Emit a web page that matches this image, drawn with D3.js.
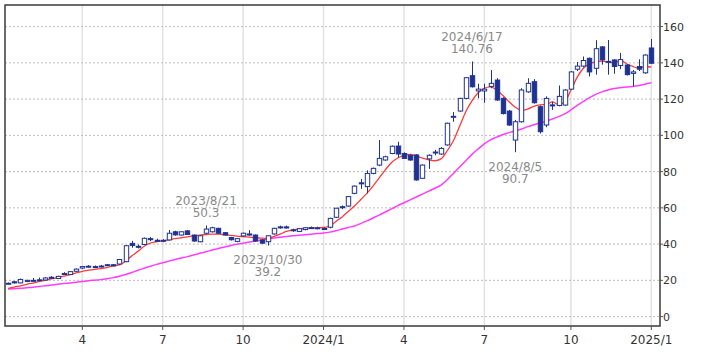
<!DOCTYPE html>
<html>
<head>
<meta charset="utf-8">
<script src="https://cdn.jsdelivr.net/npm/d3@7"></script>
<style>
body { margin: 0; background: #fff; }
svg { display: block; font-family: "DejaVu Sans", Verdana, sans-serif; }
</style>
</head>
<body>
<div id="chart"></div>
<script>
// weekly candles, Monday dates from 2023/1/9 to 2025/1/6
const openV = [
  18.0, 19.2, 18.6, 19.4, 19.9, 20.2, 20.2, 21.7, 21.0, 23.8,
  23.2, 25.0, 26.8, 27.7, 27.6, 27.8, 28.6, 28.6, 29.0, 30.3,
  40.4, 38.8, 39.8, 43.0, 42.1, 41.9, 42.3, 46.8, 45.0, 47.3,
  45.0, 41.3, 46.0, 46.8, 48.7, 46.3, 43.6, 41.5, 44.5, 45.6,
  45.0, 42.3, 41.3, 45.6, 49.5, 49.5, 47.8, 47.0, 48.0, 49.0,
  48.9, 48.6, 49.3, 54.8, 60.6, 61.0, 68.0, 73.8, 71.7, 79.0,
  83.6, 86.4, 90.0, 94.1, 90.0, 89.0, 89.2, 76.3, 87.0, 90.3,
  89.7, 94.7, 110.0, 113.4, 120.4, 132.9, 124.5, 124.5, 127.0, 130.5,
  120.4, 113.4, 97.4, 107.5, 124.0, 129.6, 115.8, 105.7, 116.8, 116.5,
  116.7, 125.5, 136.5, 138.2, 142.5, 137.0, 148.8, 140.3, 141.6, 138.5,
  138.8, 134.2, 138.0, 134.5, 148.2
];
const highV = [
  18.8, 19.6, 21.0, 20.3, 21.3, 21.5, 21.8, 22.3, 22.5, 24.5,
  25.0, 26.6, 27.8, 28.4, 28.2, 28.5, 29.0, 29.0, 31.8, 39.5,
  41.8, 39.8, 43.6, 43.9, 43.0, 42.7, 47.8, 47.4, 47.0, 47.6,
  45.3, 44.9, 50.3, 49.6, 49.0, 46.6, 44.0, 43.3, 46.3, 47.7,
  45.3, 42.6, 44.9, 49.0, 50.2, 50.2, 48.5, 48.8, 49.4, 49.7,
  49.6, 49.3, 54.5, 60.0, 61.3, 66.5, 72.4, 76.0, 80.7, 82.2,
  97.4, 88.8, 94.4, 96.5, 90.6, 89.5, 89.6, 84.0, 89.5, 92.0,
  93.5, 107.0, 112.8, 120.7, 132.2, 140.76, 128.5, 128.5, 136.0, 131.5,
  121.0, 114.0, 108.5, 126.0, 131.5, 131.0, 116.5, 121.5, 118.5, 127.5,
  125.5, 135.5, 140.5, 143.5, 143.0, 152.5, 149.2, 152.6, 142.0, 145.5,
  139.3, 136.0, 142.0, 144.7, 153.2
];
const lowV = [
  17.6, 18.3, 18.4, 19.0, 19.3, 19.8, 20.0, 21.0, 20.8, 23.2,
  23.0, 24.8, 26.3, 27.0, 26.8, 27.1, 27.9, 27.8, 28.6, 30.0,
  38.0, 37.6, 39.5, 41.6, 41.3, 41.0, 42.0, 44.6, 44.7, 45.0,
  41.3, 41.0, 45.5, 46.4, 45.7, 44.7, 42.0, 41.0, 44.0, 44.6,
  41.3, 40.2, 39.2, 45.3, 48.5, 48.6, 46.8, 46.6, 47.6, 48.3,
  48.2, 47.8, 48.7, 54.4, 59.3, 60.6, 67.5, 70.5, 68.0, 78.5,
  83.0, 86.0, 89.6, 87.8, 87.0, 86.0, 75.0, 76.0, 81.5, 89.0,
  89.3, 94.3, 107.5, 113.0, 120.0, 126.4, 120.5, 118.0, 126.0, 119.0,
  111.5, 105.3, 90.7, 107.0, 123.5, 117.5, 101.0, 104.5, 114.0, 116.0,
  116.3, 125.0, 135.5, 137.5, 132.5, 133.5, 139.0, 133.5, 134.0, 136.5,
  133.0, 127.0, 135.5, 134.0, 139.3
];
const closeV = [
  18.4, 18.6, 20.5, 20.0, 20.0, 20.3, 21.3, 21.4, 22.2, 23.4,
  24.8, 26.2, 27.6, 27.8, 27.5, 27.9, 28.2, 28.0, 31.5, 39.1,
  39.2, 38.6, 43.2, 42.6, 42.0, 42.1, 46.0, 45.1, 46.8, 45.3,
  41.7, 44.6, 48.3, 49.0, 46.0, 45.0, 42.4, 43.0, 46.0, 45.0,
  41.7, 40.5, 44.6, 48.7, 49.0, 48.9, 47.9, 48.5, 49.0, 49.1,
  49.0, 48.6, 54.2, 59.8, 60.2, 66.2, 72.0, 73.3, 79.0, 81.8,
  87.3, 88.2, 94.0, 89.7, 87.3, 86.4, 75.4, 83.6, 89.0, 90.8,
  92.8, 106.7, 110.5, 120.4, 131.8, 126.8, 125.5, 125.5, 128.7, 119.5,
  112.0, 105.7, 107.5, 125.0, 128.7, 118.0, 102.0, 120.4, 116.4, 121.5,
  125.0, 135.0, 138.2, 141.3, 135.0, 147.8, 141.6, 140.8, 138.0, 141.8,
  133.5, 135.0, 136.5, 144.3, 139.8
];
// moving averages
const ma13 = [
  15.5, 16.3, 17.0, 17.8, 18.5, 19.3, 20.0, 20.8, 21.5, 22.3,
  23.2, 24.1, 25.0, 25.6, 26.1, 26.5, 27.0, 28.0, 28.5, 30.5,
  33.5, 36.0, 38.8, 40.5, 41.3, 41.8, 42.4, 43.0, 43.5, 44.0,
  44.6, 45.0, 45.3, 45.5, 45.5, 45.2, 44.8, 44.4, 44.1, 43.8,
  43.5, 43.3, 43.2, 44.2, 45.5, 47.0, 47.8, 48.3, 48.7, 48.9,
  49.0, 49.2, 49.8, 52.5, 55.0, 58.0, 61.0, 64.5, 68.0, 72.0,
  76.5, 81.0, 85.0, 87.5, 89.0, 89.5, 88.5, 87.5, 86.5, 86.0,
  87.0, 91.5, 97.0, 105.0, 113.0, 119.0, 123.5, 126.0, 126.8, 125.0,
  122.0, 118.5, 115.5, 113.8, 114.5, 116.0, 116.8, 117.0, 118.5, 117.0,
  118.5, 125.0, 132.0, 137.0, 139.5, 140.5, 141.0, 140.5, 140.0, 141.5,
  139.5, 138.0, 137.0, 138.0, 137.7
];
const ma26 = [
  15.2, 15.4, 15.6, 15.9, 16.2, 16.6, 17.0, 17.4, 17.8, 18.2,
  18.6, 19.0, 19.4, 19.8, 20.1, 20.4, 20.9, 21.5, 22.3, 23.2,
  24.3, 25.6, 26.7, 27.8, 28.8, 29.7, 30.6, 31.5, 32.3, 33.1,
  34.0, 34.9, 35.8, 36.7, 37.6, 38.4, 39.2, 39.9, 40.5, 41.1,
  41.7, 42.3, 43.0, 43.4, 43.8, 44.2, 44.6, 44.9, 45.2, 45.5,
  45.8, 46.1, 46.6, 47.4, 48.3, 49.2, 50.0, 51.3, 52.8, 54.4,
  56.0, 57.7, 59.4, 61.2, 62.8, 64.4, 66.0, 67.6, 69.2, 70.8,
  72.6, 75.5, 79.0, 82.5, 86.0, 89.5, 92.5, 95.3, 97.5, 99.0,
  100.5, 101.5, 102.5, 103.5, 104.8, 105.8, 106.8, 107.8, 109.0, 110.3,
  111.8, 114.0, 116.5, 118.7, 120.8, 122.6, 124.0, 125.0, 125.8, 126.3,
  126.7, 127.0, 127.5, 128.2, 129.0
];
const yTicks = [0, 20, 40, 60, 80, 100, 120, 140, 160];
const xTickLabels = ["4", "7", "10", "2024/1", "4", "7", "10", "2025/1"];
const noteDates = ["2023/8/21", "2023/10/30", "2024/6/17", "2024/8/5"];
const noteValues = [50.3, 39.2, 140.76, 90.7];
const noteKinds = ["high", "low", "high", "low"];

const weeks = d3.timeMonday.range(new Date(2023, 0, 9), new Date(2025, 0, 7));
const fmt = d3.timeFormat("%Y/%-m/%-d");
const candles = weeks.map((d, i) => ({
  i: i + 1, date: d,
  o: openV[i], h: highV[i], l: lowV[i], c: closeV[i]
}));

const W = 709, H = 354;
const pLeft = 5, pRight = 660, pTop = 5, pBottom = 326;

const x = d3.scaleLinear().domain([0.5, 106.4]).range([pLeft, pRight]);
const y = d3.scaleLinear().domain([0, 160]).range([316.6, 26.6]);

const svg = d3.select("#chart").append("svg")
  .attr("width", W).attr("height", H);

svg.append("defs").append("clipPath").attr("id", "plot")
  .append("rect").attr("x", pLeft).attr("y", pTop)
  .attr("width", pRight - pLeft).attr("height", pBottom - pTop);

// quarter gridlines at the first week of Jan/Apr/Jul/Oct
const quarterIdx = candles.filter((d, k) => k > 0 &&
  d.date.getMonth() !== candles[k - 1].date.getMonth() &&
  d.date.getMonth() % 3 === 0).map(d => d.i);

svg.append("g").selectAll("line").data(quarterIdx).enter().append("line")
  .attr("x1", d => x(d)).attr("x2", d => x(d))
  .attr("y1", pTop).attr("y2", pBottom)
  .attr("stroke", "#e2e2e2").attr("stroke-width", 1.5);

svg.append("g").selectAll("line").data(yTicks).enter().append("line")
  .attr("x1", pLeft).attr("x2", pRight)
  .attr("y1", d => y(d)).attr("y2", d => y(d))
  .attr("stroke", "#bdbdbd").attr("stroke-width", 1)
  .attr("stroke-dasharray", "2,2");

const plot = svg.append("g").attr("clip-path", "url(#plot)");

const line = arr => d3.line()
  .x((d, k) => x(k + 1)).y(d => y(d))
  .curve(d3.curveMonotoneX)(arr);

plot.append("path").attr("d", line(ma26))
  .attr("fill", "none").attr("stroke", "#ff3cff").attr("stroke-width", 1.5);
plot.append("path").attr("d", line(ma13))
  .attr("fill", "none").attr("stroke", "#ff3a3a").attr("stroke-width", 1.3);

const navy = "#1f3290";
const bw = 4.4;
const cg = plot.selectAll("g.candle").data(candles).enter().append("g");

cg.append("line")
  .attr("x1", d => Math.round(x(d.i)) + 0.5).attr("x2", d => Math.round(x(d.i)) + 0.5)
  .attr("y1", d => y(d.h)).attr("y2", d => y(d.l))
  .attr("stroke", navy).attr("stroke-width", 1);

cg.append("rect")
  .attr("x", d => Math.round(x(d.i)) + 0.5 - bw / 2)
  .attr("y", d => y(Math.max(d.o, d.c)))
  .attr("width", bw)
  .attr("height", d => Math.max(1, Math.abs(y(d.o) - y(d.c))))
  .attr("fill", d => d.c >= d.o ? "#fff" : navy)
  .attr("stroke", navy).attr("stroke-width", 1);

// frame
svg.append("rect").attr("x", pLeft).attr("y", pTop)
  .attr("width", pRight - pLeft).attr("height", pBottom - pTop)
  .attr("fill", "none").attr("stroke", "#3a3a3a").attr("stroke-width", 1.5);

// right axis
const yAxis = svg.append("g");
yAxis.selectAll("line").data(yTicks).enter().append("line")
  .attr("x1", pRight).attr("x2", pRight + 3)
  .attr("y1", d => y(d)).attr("y2", d => y(d))
  .attr("stroke", "#555");
yAxis.selectAll("text").data(yTicks).enter().append("text")
  .attr("x", pRight + 3).attr("y", d => y(d)).attr("dy", "0.36em")
  .attr("font-size", 11).attr("fill", "#333")
  .text(d => d);

// bottom axis
const xAxis = svg.append("g");
xAxis.selectAll("line").data(quarterIdx).enter().append("line")
  .attr("x1", d => x(d)).attr("x2", d => x(d))
  .attr("y1", pBottom).attr("y2", pBottom + 4)
  .attr("stroke", "#555");
xAxis.selectAll("text").data(quarterIdx).enter().append("text")
  .attr("x", d => x(d)).attr("y", 344)
  .attr("text-anchor", "middle")
  .attr("font-size", 12).attr("fill", "#333")
  .text((d, k) => xTickLabels[k]);

// high / low notes
noteDates.forEach((s, k) => {
  const c = candles.find(d => fmt(d.date) === s);
  const cx = x(c.i);
  const vy = y(noteValues[k]);
  const y1 = noteKinds[k] === "high" ? vy - 25 : vy + 14;
  const g = svg.append("g").attr("font-size", 12).attr("fill", "#8a8a8a")
    .attr("text-anchor", "middle");
  g.append("text").attr("x", cx).attr("y", y1).attr("dy", "0.36em").text(s);
  g.append("text").attr("x", cx).attr("y", y1 + 12.5).attr("dy", "0.36em")
    .text(noteValues[k]);
});
</script>
</body>
</html>
